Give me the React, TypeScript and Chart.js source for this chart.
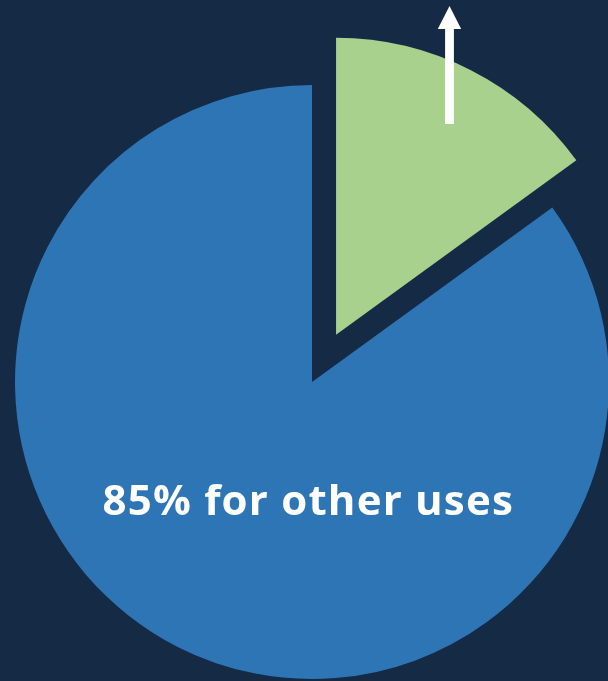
import { useEffect, useRef } from "react";
import { Chart, registerables } from "chart.js";

Chart.register(...registerables);

// ---- data ----
const categories = ["Highlighted share", "Other uses"];
const shares = [15, 85];
const sliceColors = ["#a9d18e", "#2e75b6"];
const explodePx = [53, 0];
const centerLabel = "85% for other uses";

// ---- style ----
const BG = "#152a45";
const W = 608;
const H = 681;
const RADIUS = 297;

// keep the exploded slice at the same radius and angular span as the rest
const explodeFix = {
  id: "explodeFix",
  afterDatasetsUpdate(chart: any) {
    const meta = chart.getDatasetMeta(0);
    meta.data.forEach((arc: any, i: number) => {
      const off = explodePx[i];
      if (!off) return;
      const circ = arc.circumference;
      const fix = 1 - Math.sin(Math.min(Math.PI, circ));
      const r0 = off * fix;
      arc.outerRadius = RADIUS - r0;
      const ang = r0 / Math.PI / RADIUS / 2;
      arc.startAngle -= ang;
      arc.endAngle += ang;
    });
  },
};

const annotations = {
  id: "annotations",
  afterDatasetsDraw(chart: any) {
    const meta = chart.getDatasetMeta(0);
    const arc = meta.data[1];
    if (!arc) return;
    const cx = arc.x;
    const cy = arc.y;
    const ctx = chart.ctx as CanvasRenderingContext2D;
    ctx.save();
    // label
    ctx.fillStyle = "#ffffff";
    ctx.font = "700 42px 'Open Sans'";
    (ctx as any).letterSpacing = "1.2px";
    ctx.textAlign = "center";
    ctx.textBaseline = "alphabetic";
    ctx.fillText(centerLabel, cx - 4.3 + 0.6, cy + 133);
    (ctx as any).letterSpacing = "0px";
    // arrow
    const ax = cx + 137.5;
    ctx.fillRect(ax - 4.4, cy - 353, 8.8, 353 - 258);
    ctx.beginPath();
    ctx.moveTo(ax - 11.7, cy - 353);
    ctx.lineTo(ax + 11.7, cy - 353);
    ctx.lineTo(ax, cy - 376);
    ctx.closePath();
    ctx.fill();
    ctx.restore();
  },
};

export default function App() {
  const ref = useRef<HTMLCanvasElement | null>(null);
  useEffect(() => {
    if (!ref.current) return;
    const chart = new Chart(ref.current, {
      type: "pie",
      data: {
        labels: categories,
        datasets: [
          {
            data: shares,
            backgroundColor: sliceColors,
            borderWidth: 0,
            offset: explodePx.map((v) => v * 4),
            hoverOffset: 0,
            clip: false,
          } as any,
        ],
      },
      options: {
        responsive: false,
        animation: false,
        devicePixelRatio: 1,
        events: [],
        radius: RADIUS,
        layout: { padding: { left: 16, top: 83, right: 0, bottom: 0 } },
        plugins: {
          legend: { display: false },
          tooltip: { enabled: false },
        },
      } as any,
      plugins: [explodeFix, annotations],
    });
    return () => chart.destroy();
  }, []);
  return (
    <div
      style={{
        position: "fixed",
        left: 0,
        top: 0,
        width: W,
        height: H,
        background: BG,
        overflow: "hidden",
      }}
    >
      <canvas ref={ref} width={W} height={H} style={{ display: "block" }} />
    </div>
  );
}
